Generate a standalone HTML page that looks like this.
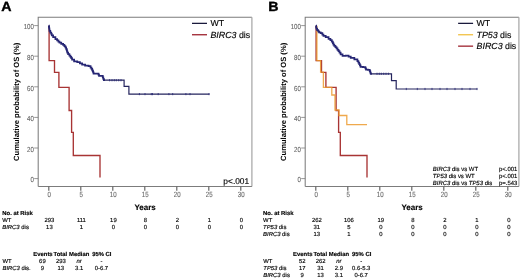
<!DOCTYPE html>
<html><head><meta charset="utf-8"><style>
html,body{margin:0;padding:0;background:#fff;width:520px;height:279px;overflow:hidden}
svg{display:block;will-change:transform;filter:blur(0.25px)}
text{text-rendering:geometricPrecision}

</style></head><body>
<svg width="520" height="279" viewBox="0 0 520 279" font-family='"Liberation Sans", sans-serif'><rect width="520" height="279" fill="#fff"/><text transform="translate(1.30,10.5) scale(1.07,1)" font-weight="bold" font-size="13.3" stroke="#000" stroke-width="0.35">A</text><path d="M38.20,186.5V17.25H251.90" fill="none" stroke="#7c7c7c" stroke-width="1.05"/><path d="M251.90,17.25V186.5" fill="none" stroke="#a4a4a4" stroke-width="1.2"/><path d="M38.20,186.5H251.90" fill="none" stroke="#7c7c7c" stroke-width="1.05"/><line x1="34.20" y1="178.60" x2="38.2" y2="178.60" stroke="#7c7c7c" stroke-width="0.8"/><text transform="translate(33.90,182.30) scale(0.84,1)" font-size="7.3" text-anchor="end" fill="#666666" stroke="#666666" stroke-width="0.1">0</text><line x1="34.20" y1="148.00" x2="38.2" y2="148.00" stroke="#7c7c7c" stroke-width="0.8"/><text transform="translate(33.90,151.70) scale(0.84,1)" font-size="7.3" text-anchor="end" fill="#666666" stroke="#666666" stroke-width="0.1">20</text><line x1="34.20" y1="117.40" x2="38.2" y2="117.40" stroke="#7c7c7c" stroke-width="0.8"/><text transform="translate(33.90,121.10) scale(0.84,1)" font-size="7.3" text-anchor="end" fill="#666666" stroke="#666666" stroke-width="0.1">40</text><line x1="34.20" y1="86.80" x2="38.2" y2="86.80" stroke="#7c7c7c" stroke-width="0.8"/><text transform="translate(33.90,90.50) scale(0.84,1)" font-size="7.3" text-anchor="end" fill="#666666" stroke="#666666" stroke-width="0.1">60</text><line x1="34.20" y1="56.20" x2="38.2" y2="56.20" stroke="#7c7c7c" stroke-width="0.8"/><text transform="translate(33.90,59.90) scale(0.84,1)" font-size="7.3" text-anchor="end" fill="#666666" stroke="#666666" stroke-width="0.1">80</text><line x1="34.20" y1="25.60" x2="38.2" y2="25.60" stroke="#7c7c7c" stroke-width="0.8"/><text transform="translate(33.90,29.30) scale(0.84,1)" font-size="7.3" text-anchor="end" fill="#666666" stroke="#666666" stroke-width="0.1">100</text><line x1="48.80" y1="186.5" x2="48.80" y2="190.7" stroke="#606060" stroke-width="1.15"/><text transform="translate(49.20,197.1) scale(0.8,1)" font-size="7.6" text-anchor="middle" fill="#666666" stroke="#666666" stroke-width="0.1">0</text><line x1="80.80" y1="186.5" x2="80.80" y2="190.7" stroke="#606060" stroke-width="1.15"/><text transform="translate(81.20,197.1) scale(0.8,1)" font-size="7.6" text-anchor="middle" fill="#666666" stroke="#666666" stroke-width="0.1">5</text><line x1="112.80" y1="186.5" x2="112.80" y2="190.7" stroke="#606060" stroke-width="1.15"/><text transform="translate(113.20,197.1) scale(0.8,1)" font-size="7.6" text-anchor="middle" fill="#666666" stroke="#666666" stroke-width="0.1">10</text><line x1="144.80" y1="186.5" x2="144.80" y2="190.7" stroke="#606060" stroke-width="1.15"/><text transform="translate(145.20,197.1) scale(0.8,1)" font-size="7.6" text-anchor="middle" fill="#666666" stroke="#666666" stroke-width="0.1">15</text><line x1="176.80" y1="186.5" x2="176.80" y2="190.7" stroke="#606060" stroke-width="1.15"/><text transform="translate(177.20,197.1) scale(0.8,1)" font-size="7.6" text-anchor="middle" fill="#666666" stroke="#666666" stroke-width="0.1">20</text><line x1="208.80" y1="186.5" x2="208.80" y2="190.7" stroke="#606060" stroke-width="1.15"/><text transform="translate(209.20,197.1) scale(0.8,1)" font-size="7.6" text-anchor="middle" fill="#666666" stroke="#666666" stroke-width="0.1">25</text><line x1="240.80" y1="186.5" x2="240.80" y2="190.7" stroke="#606060" stroke-width="1.15"/><text transform="translate(241.20,197.1) scale(0.8,1)" font-size="7.6" text-anchor="middle" fill="#666666" stroke="#666666" stroke-width="0.1">30</text><text x="145.10" y="210.20" font-size="8.0" text-anchor="middle" font-weight="bold" fill="#000" stroke="#000" stroke-width="0.14">Years</text><text transform="translate(18.60,101.9) rotate(-90)" text-anchor="middle" font-weight="bold" font-size="7.6">Cumulative probability of OS (%)</text><path d="M49.10,25.80 L49.10,60.60 L54.50,60.60 L54.50,72.40 L58.90,72.40 L58.90,87.40 L69.10,87.40 L69.10,110.50 L71.60,110.50 L71.60,132.40 L73.30,132.40 L73.30,155.50 L100.00,155.50 L100.00,177.60" fill="none" stroke="#a83434" stroke-width="1.35" stroke-linejoin="miter"/><path d="M48.80,25.60 L48.90,25.60 L48.90,26.80 L49.10,26.80 L49.10,28.00 L49.20,28.00 L49.30,28.00 L49.30,29.45 L49.50,29.45 L49.50,30.90 L49.60,30.90 L50.30,30.90 L50.30,32.60 L51.00,32.60 L51.25,32.60 L51.25,33.95 L51.75,33.95 L51.75,35.30 L52.00,35.30 L53.15,35.30 L53.15,37.20 L54.30,37.20 L55.40,37.20 L55.40,39.10 L56.50,39.10 L57.12,39.10 L57.12,40.35 L58.38,40.35 L58.38,41.60 L59.00,41.60 L59.50,41.60 L59.50,42.50 L60.00,42.50 L61.25,42.50 L61.25,43.80 L62.50,43.80 L63.12,43.80 L63.12,44.90 L64.38,44.90 L64.38,46.00 L65.00,46.00 L65.38,46.00 L65.38,47.40 L66.12,47.40 L66.12,48.80 L66.50,48.80 L66.67,48.80 L66.67,50.07 L67.00,50.07 L67.00,51.33 L67.33,51.33 L67.33,52.60 L67.50,52.60 L68.12,52.60 L68.12,54.15 L69.38,54.15 L69.38,55.70 L70.00,55.70 L70.42,55.70 L70.42,56.97 L71.25,56.97 L71.25,58.23 L72.08,58.23 L72.08,59.50 L72.50,59.50 L74.10,59.50 L74.10,61.30 L75.70,61.30 L77.25,61.30 L77.25,62.00 L78.80,62.00 L79.90,62.00 L79.90,63.25 L82.10,63.25 L82.10,64.50 L83.20,64.50 L85.10,64.50 L85.10,65.70 L87.00,65.70 L88.55,65.70 L88.55,66.10 L90.10,66.10 L90.57,66.10 L90.57,67.50 L91.53,67.50 L91.53,68.90 L92.00,68.90 L92.22,68.90 L92.22,70.05 L92.67,70.05 L92.67,71.20 L93.12,71.20 L93.12,72.35 L93.58,72.35 L93.58,73.50 L93.80,73.50 L98.20,73.50 L98.47,73.50 L98.47,74.70 L99.03,74.70 L99.03,75.90 L99.30,75.90 L102.50,75.90 L102.77,75.90 L102.77,77.33 L103.30,77.33 L103.30,78.77 L103.83,78.77 L103.83,80.20 L104.10,80.20 L105.00,80.20" fill="none" stroke="#262674" stroke-width="1.75" stroke-linejoin="miter"/><path d="M104.50,80.20 L124.10,80.20 L124.10,86.40 L128.90,86.40 L128.90,94.10 L209.50,94.10" fill="none" stroke="#25255e" stroke-width="1.2" stroke-linejoin="miter"/><path d="M109.60,79.10v2.2M112.00,79.10v2.2M114.30,79.10v2.2M116.30,79.10v2.2M118.70,79.10v2.2M121.00,79.10v2.2" stroke="#262674" stroke-width="0.8" fill="none"/><path d="M139.40,93.00v2.2M145.00,93.00v2.2M151.30,93.00v2.2M152.50,93.00v2.2M158.20,93.00v2.2M168.90,93.00v2.2M172.70,93.00v2.2M185.90,93.00v2.2M190.00,93.00v2.2M209.00,93.00v2.2" stroke="#262674" stroke-width="0.8" fill="none"/><line x1="192.00" y1="23.35" x2="207.00" y2="23.35" stroke="#1a1a3c" stroke-width="1.25"/><text x="210.40" y="26.45" font-size="8.8" fill="#000" stroke="#000" stroke-width="0.14">WT</text><line x1="192.00" y1="34.75" x2="207.00" y2="34.75" stroke="#9a1a26" stroke-width="1.25"/><text x="210.40" y="37.85" font-size="8.9" fill="#000" stroke="#000" stroke-width="0.14"><tspan font-style="italic">BIRC3</tspan></text><text x="238.90" y="37.85" font-size="8.8" fill="#000" stroke="#000" stroke-width="0.14">dis</text><text x="249.20" y="184.40" font-size="8.4" text-anchor="end" fill="#000" stroke="#000" stroke-width="0.14">p&lt;.001</text><text x="2.30" y="215.20" font-size="5.9" font-weight="bold" fill="#000" stroke="#000" stroke-width="0.14">No. at Risk</text><text x="2.30" y="221.90" font-size="5.9" fill="#000" stroke="#000" stroke-width="0.14">WT</text><text x="49.40" y="221.90" font-size="5.9" text-anchor="middle" fill="#000" stroke="#000" stroke-width="0.14">293</text><text x="81.40" y="221.90" font-size="5.9" text-anchor="middle" fill="#000" stroke="#000" stroke-width="0.14">111</text><text x="113.40" y="221.90" font-size="5.9" text-anchor="middle" fill="#000" stroke="#000" stroke-width="0.14">19</text><text x="145.40" y="221.90" font-size="5.9" text-anchor="middle" fill="#000" stroke="#000" stroke-width="0.14">8</text><text x="177.40" y="221.90" font-size="5.9" text-anchor="middle" fill="#000" stroke="#000" stroke-width="0.14">2</text><text x="209.40" y="221.90" font-size="5.9" text-anchor="middle" fill="#000" stroke="#000" stroke-width="0.14">1</text><text x="241.40" y="221.90" font-size="5.9" text-anchor="middle" fill="#000" stroke="#000" stroke-width="0.14">0</text><text x="2.30" y="229.10" font-size="5.9" fill="#000" stroke="#000" stroke-width="0.14"><tspan font-style="italic">BIRC3</tspan> dis</text><text x="49.40" y="229.10" font-size="5.9" text-anchor="middle" fill="#000" stroke="#000" stroke-width="0.14">13</text><text x="81.40" y="229.10" font-size="5.9" text-anchor="middle" fill="#000" stroke="#000" stroke-width="0.14">1</text><text x="113.40" y="229.10" font-size="5.9" text-anchor="middle" fill="#000" stroke="#000" stroke-width="0.14">0</text><text x="145.40" y="229.10" font-size="5.9" text-anchor="middle" fill="#000" stroke="#000" stroke-width="0.14">0</text><text x="177.40" y="229.10" font-size="5.9" text-anchor="middle" fill="#000" stroke="#000" stroke-width="0.14">0</text><text x="209.40" y="229.10" font-size="5.9" text-anchor="middle" fill="#000" stroke="#000" stroke-width="0.14">0</text><text x="241.40" y="229.10" font-size="5.9" text-anchor="middle" fill="#000" stroke="#000" stroke-width="0.14">0</text><text x="33.30" y="255.80" font-size="5.9" font-weight="bold" fill="#000" stroke="#000" stroke-width="0.14">Events</text><text x="53.60" y="255.80" font-size="5.9" font-weight="bold" fill="#000" stroke="#000" stroke-width="0.14">Total</text><text x="69.00" y="255.80" font-size="5.9" font-weight="bold" fill="#000" stroke="#000" stroke-width="0.14">Median</text><text x="92.20" y="255.80" font-size="5.9" font-weight="bold" fill="#000" stroke="#000" stroke-width="0.14">95% CI</text><text x="2.50" y="262.90" font-size="5.9" fill="#000" stroke="#000" stroke-width="0.14">WT</text><text x="42.40" y="262.90" font-size="5.9" text-anchor="middle" fill="#000" stroke="#000" stroke-width="0.14">69</text><text x="60.80" y="262.90" font-size="5.9" text-anchor="middle" fill="#000" stroke="#000" stroke-width="0.14">293</text><text x="79.10" y="262.90" font-size="5.9" text-anchor="middle" fill="#000" stroke="#000" stroke-width="0.14"><tspan font-style="italic">nr</tspan></text><text x="101.40" y="262.90" font-size="5.9" text-anchor="middle" fill="#000" stroke="#000" stroke-width="0.14">-</text><text x="2.50" y="270.00" font-size="5.9" fill="#000" stroke="#000" stroke-width="0.14"><tspan font-style="italic">BIRC3</tspan> dis.</text><text x="42.40" y="270.00" font-size="5.9" text-anchor="middle" fill="#000" stroke="#000" stroke-width="0.14">9</text><text x="60.80" y="270.00" font-size="5.9" text-anchor="middle" fill="#000" stroke="#000" stroke-width="0.14">13</text><text x="79.10" y="270.00" font-size="5.9" text-anchor="middle" fill="#000" stroke="#000" stroke-width="0.14">3.1</text><text x="101.40" y="270.00" font-size="5.9" text-anchor="middle" fill="#000" stroke="#000" stroke-width="0.14">0-6.7</text><text transform="translate(268.30,10.5) scale(1.07,1)" font-weight="bold" font-size="13.3" stroke="#000" stroke-width="0.35">B</text><path d="M305.20,186.5V17.25H518.90" fill="none" stroke="#7c7c7c" stroke-width="1.05"/><path d="M518.90,17.25V186.5" fill="none" stroke="#a4a4a4" stroke-width="1.2"/><path d="M305.20,186.5H518.90" fill="none" stroke="#7c7c7c" stroke-width="1.05"/><line x1="301.20" y1="178.60" x2="305.2" y2="178.60" stroke="#7c7c7c" stroke-width="0.8"/><text transform="translate(300.90,182.30) scale(0.84,1)" font-size="7.3" text-anchor="end" fill="#666666" stroke="#666666" stroke-width="0.1">0</text><line x1="301.20" y1="148.00" x2="305.2" y2="148.00" stroke="#7c7c7c" stroke-width="0.8"/><text transform="translate(300.90,151.70) scale(0.84,1)" font-size="7.3" text-anchor="end" fill="#666666" stroke="#666666" stroke-width="0.1">20</text><line x1="301.20" y1="117.40" x2="305.2" y2="117.40" stroke="#7c7c7c" stroke-width="0.8"/><text transform="translate(300.90,121.10) scale(0.84,1)" font-size="7.3" text-anchor="end" fill="#666666" stroke="#666666" stroke-width="0.1">40</text><line x1="301.20" y1="86.80" x2="305.2" y2="86.80" stroke="#7c7c7c" stroke-width="0.8"/><text transform="translate(300.90,90.50) scale(0.84,1)" font-size="7.3" text-anchor="end" fill="#666666" stroke="#666666" stroke-width="0.1">60</text><line x1="301.20" y1="56.20" x2="305.2" y2="56.20" stroke="#7c7c7c" stroke-width="0.8"/><text transform="translate(300.90,59.90) scale(0.84,1)" font-size="7.3" text-anchor="end" fill="#666666" stroke="#666666" stroke-width="0.1">80</text><line x1="301.20" y1="25.60" x2="305.2" y2="25.60" stroke="#7c7c7c" stroke-width="0.8"/><text transform="translate(300.90,29.30) scale(0.84,1)" font-size="7.3" text-anchor="end" fill="#666666" stroke="#666666" stroke-width="0.1">100</text><line x1="315.80" y1="186.5" x2="315.80" y2="190.7" stroke="#606060" stroke-width="1.15"/><text transform="translate(316.20,197.1) scale(0.8,1)" font-size="7.6" text-anchor="middle" fill="#666666" stroke="#666666" stroke-width="0.1">0</text><line x1="347.80" y1="186.5" x2="347.80" y2="190.7" stroke="#606060" stroke-width="1.15"/><text transform="translate(348.20,197.1) scale(0.8,1)" font-size="7.6" text-anchor="middle" fill="#666666" stroke="#666666" stroke-width="0.1">5</text><line x1="379.80" y1="186.5" x2="379.80" y2="190.7" stroke="#606060" stroke-width="1.15"/><text transform="translate(380.20,197.1) scale(0.8,1)" font-size="7.6" text-anchor="middle" fill="#666666" stroke="#666666" stroke-width="0.1">10</text><line x1="411.80" y1="186.5" x2="411.80" y2="190.7" stroke="#606060" stroke-width="1.15"/><text transform="translate(412.20,197.1) scale(0.8,1)" font-size="7.6" text-anchor="middle" fill="#666666" stroke="#666666" stroke-width="0.1">15</text><line x1="443.80" y1="186.5" x2="443.80" y2="190.7" stroke="#606060" stroke-width="1.15"/><text transform="translate(444.20,197.1) scale(0.8,1)" font-size="7.6" text-anchor="middle" fill="#666666" stroke="#666666" stroke-width="0.1">20</text><line x1="475.80" y1="186.5" x2="475.80" y2="190.7" stroke="#606060" stroke-width="1.15"/><text transform="translate(476.20,197.1) scale(0.8,1)" font-size="7.6" text-anchor="middle" fill="#666666" stroke="#666666" stroke-width="0.1">25</text><line x1="507.80" y1="186.5" x2="507.80" y2="190.7" stroke="#606060" stroke-width="1.15"/><text transform="translate(508.20,197.1) scale(0.8,1)" font-size="7.6" text-anchor="middle" fill="#666666" stroke="#666666" stroke-width="0.1">30</text><text x="412.10" y="210.20" font-size="8.0" text-anchor="middle" font-weight="bold" fill="#000" stroke="#000" stroke-width="0.14">Years</text><text transform="translate(285.60,101.9) rotate(-90)" text-anchor="middle" font-weight="bold" font-size="7.6">Cumulative probability of OS (%)</text><path d="M316.10,25.80 L316.10,60.60 L321.50,60.60 L321.50,72.40 L325.90,72.40 L325.90,87.40 L336.10,87.40 L336.10,110.50 L338.60,110.50 L338.60,132.40 L340.30,132.40 L340.30,155.50 L367.00,155.50 L367.00,177.60" fill="none" stroke="#a83434" stroke-width="1.35" stroke-linejoin="miter"/><path d="M316.90,25.80 L316.90,60.60 L320.60,60.60 L320.60,72.20 L323.40,72.20 L323.40,87.40 L331.80,87.40 L331.80,95.00 L335.00,95.00 L335.00,110.00 L339.00,110.00 L339.00,115.50 L346.80,115.50 L346.80,124.70 L367.00,124.70" fill="none" stroke="#ec9a2e" stroke-width="1.3" stroke-opacity="0.85" stroke-linejoin="miter"/><path d="M316.00,25.60 L316.12,25.60 L316.12,27.05 L316.38,27.05 L316.38,28.50 L316.50,28.50 L317.15,28.50 L317.15,30.10 L317.80,30.10 L318.23,30.10 L318.23,31.25 L319.07,31.25 L319.07,32.40 L319.50,32.40 L320.65,32.40 L320.65,33.20 L321.80,33.20 L322.35,33.20 L322.35,34.50 L323.45,34.50 L323.45,35.80 L324.00,35.80 L325.70,35.80 L325.70,37.00 L327.40,37.00 L328.55,37.00 L328.55,38.90 L329.70,38.90 L330.40,38.90 L330.40,40.20 L331.80,40.20 L331.80,41.50 L332.50,41.50 L332.80,41.50 L332.80,43.05 L333.40,43.05 L333.40,44.60 L333.70,44.60 L334.27,44.60 L334.27,45.80 L335.43,45.80 L335.43,47.00 L336.00,47.00 L336.50,47.00 L336.50,48.40 L337.50,48.40 L337.50,49.80 L338.00,49.80 L338.50,49.80 L338.50,51.15 L339.50,51.15 L339.50,52.50 L340.00,52.50 L340.60,52.50 L340.60,54.30 L341.20,54.30 L342.55,54.30 L342.55,55.90 L343.90,55.90 L345.70,55.90 L345.70,55.50 L347.50,55.50 L348.57,55.50 L348.57,56.70 L350.73,56.70 L350.73,57.90 L351.80,57.90 L354.35,57.90 L354.35,59.40 L356.90,59.40 L357.40,59.40 L357.40,61.00 L358.40,61.00 L358.40,62.60 L358.90,62.60 L359.23,62.60 L359.23,64.03 L359.90,64.03 L359.90,65.47 L360.57,65.47 L360.57,66.90 L360.90,66.90 L363.00,66.90 L363.00,67.10 L365.10,67.10 L365.40,67.10 L365.40,68.30 L366.00,68.30 L366.00,69.50 L366.30,69.50 L367.90,69.50 L367.90,69.90 L369.50,69.90 L369.75,69.90 L369.75,71.20 L370.25,71.20 L370.25,72.50 L370.75,72.50 L370.75,73.80 L371.00,73.80 L372.00,73.80" fill="none" stroke="#262674" stroke-width="1.75" stroke-linejoin="miter"/><path d="M371.50,73.80 L391.50,73.80 L391.50,80.70 L396.20,80.70 L396.20,89.00 L477.30,89.00" fill="none" stroke="#25255e" stroke-width="1.2" stroke-linejoin="miter"/><path d="M377.00,72.70v2.2M379.30,72.70v2.2M381.30,72.70v2.2M383.70,72.70v2.2M386.00,72.70v2.2M388.40,72.70v2.2" stroke="#262674" stroke-width="0.8" fill="none"/><path d="M406.30,87.90v2.2M417.30,87.90v2.2M425.00,87.90v2.2M432.00,87.90v2.2M440.00,87.90v2.2M447.00,87.90v2.2M455.00,87.90v2.2M462.00,87.90v2.2M470.00,87.90v2.2M477.00,87.90v2.2" stroke="#262674" stroke-width="0.8" fill="none"/><line x1="458.10" y1="23.35" x2="473.10" y2="23.35" stroke="#1a1a3c" stroke-width="1.25"/><text x="476.50" y="26.45" font-size="8.8" fill="#000" stroke="#000" stroke-width="0.14">WT</text><line x1="458.10" y1="34.75" x2="473.10" y2="34.75" stroke="#f0be3c" stroke-width="1.25"/><text x="476.50" y="37.85" font-size="8.9" fill="#000" stroke="#000" stroke-width="0.14"><tspan font-style="italic">TP53</tspan></text><text x="500.10" y="37.85" font-size="8.8" fill="#000" stroke="#000" stroke-width="0.14">dis</text><line x1="458.10" y1="46.15" x2="473.10" y2="46.15" stroke="#9a1a26" stroke-width="1.25"/><text x="476.50" y="49.25" font-size="8.9" fill="#000" stroke="#000" stroke-width="0.14"><tspan font-style="italic">BIRC3</tspan></text><text x="505.00" y="49.25" font-size="8.8" fill="#000" stroke="#000" stroke-width="0.14">dis</text><text x="432.80" y="170.70" font-size="5.95" fill="#000" stroke="#000" stroke-width="0.14"><tspan font-style="italic">BIRC3</tspan> dis vs WT</text><text x="499.00" y="170.70" font-size="5.95" fill="#000" stroke="#000" stroke-width="0.14">p&lt;.001</text><text x="432.80" y="177.90" font-size="5.95" fill="#000" stroke="#000" stroke-width="0.14"><tspan font-style="italic">TP53</tspan> dis vs WT</text><text x="499.00" y="177.90" font-size="5.95" fill="#000" stroke="#000" stroke-width="0.14">p&lt;.001</text><text x="432.80" y="185.10" font-size="5.95" fill="#000" stroke="#000" stroke-width="0.14"><tspan font-style="italic">BIRC3</tspan> dis vs <tspan font-style="italic">TP53</tspan> dis</text><text x="499.00" y="185.10" font-size="5.95" fill="#000" stroke="#000" stroke-width="0.14">p=.543</text><text x="263.10" y="215.20" font-size="5.9" font-weight="bold" fill="#000" stroke="#000" stroke-width="0.14">No. at Risk</text><text x="263.10" y="221.90" font-size="5.9" fill="#000" stroke="#000" stroke-width="0.14">WT</text><text x="316.80" y="221.90" font-size="5.9" text-anchor="middle" fill="#000" stroke="#000" stroke-width="0.14">262</text><text x="348.80" y="221.90" font-size="5.9" text-anchor="middle" fill="#000" stroke="#000" stroke-width="0.14">106</text><text x="380.80" y="221.90" font-size="5.9" text-anchor="middle" fill="#000" stroke="#000" stroke-width="0.14">19</text><text x="412.80" y="221.90" font-size="5.9" text-anchor="middle" fill="#000" stroke="#000" stroke-width="0.14">8</text><text x="444.80" y="221.90" font-size="5.9" text-anchor="middle" fill="#000" stroke="#000" stroke-width="0.14">2</text><text x="476.80" y="221.90" font-size="5.9" text-anchor="middle" fill="#000" stroke="#000" stroke-width="0.14">1</text><text x="508.80" y="221.90" font-size="5.9" text-anchor="middle" fill="#000" stroke="#000" stroke-width="0.14">0</text><text x="263.10" y="229.10" font-size="5.9" fill="#000" stroke="#000" stroke-width="0.14"><tspan font-style="italic">TP53</tspan> dis</text><text x="316.80" y="229.10" font-size="5.9" text-anchor="middle" fill="#000" stroke="#000" stroke-width="0.14">31</text><text x="348.80" y="229.10" font-size="5.9" text-anchor="middle" fill="#000" stroke="#000" stroke-width="0.14">5</text><text x="380.80" y="229.10" font-size="5.9" text-anchor="middle" fill="#000" stroke="#000" stroke-width="0.14">0</text><text x="412.80" y="229.10" font-size="5.9" text-anchor="middle" fill="#000" stroke="#000" stroke-width="0.14">0</text><text x="444.80" y="229.10" font-size="5.9" text-anchor="middle" fill="#000" stroke="#000" stroke-width="0.14">0</text><text x="476.80" y="229.10" font-size="5.9" text-anchor="middle" fill="#000" stroke="#000" stroke-width="0.14">0</text><text x="508.80" y="229.10" font-size="5.9" text-anchor="middle" fill="#000" stroke="#000" stroke-width="0.14">0</text><text x="263.10" y="236.30" font-size="5.9" fill="#000" stroke="#000" stroke-width="0.14"><tspan font-style="italic">BIRC3</tspan> dis</text><text x="316.80" y="236.30" font-size="5.9" text-anchor="middle" fill="#000" stroke="#000" stroke-width="0.14">13</text><text x="348.80" y="236.30" font-size="5.9" text-anchor="middle" fill="#000" stroke="#000" stroke-width="0.14">1</text><text x="380.80" y="236.30" font-size="5.9" text-anchor="middle" fill="#000" stroke="#000" stroke-width="0.14">0</text><text x="412.80" y="236.30" font-size="5.9" text-anchor="middle" fill="#000" stroke="#000" stroke-width="0.14">0</text><text x="444.80" y="236.30" font-size="5.9" text-anchor="middle" fill="#000" stroke="#000" stroke-width="0.14">0</text><text x="476.80" y="236.30" font-size="5.9" text-anchor="middle" fill="#000" stroke="#000" stroke-width="0.14">0</text><text x="508.80" y="236.30" font-size="5.9" text-anchor="middle" fill="#000" stroke="#000" stroke-width="0.14">0</text><text x="293.10" y="255.80" font-size="5.9" font-weight="bold" fill="#000" stroke="#000" stroke-width="0.14">Events</text><text x="313.40" y="255.80" font-size="5.9" font-weight="bold" fill="#000" stroke="#000" stroke-width="0.14">Total</text><text x="328.80" y="255.80" font-size="5.9" font-weight="bold" fill="#000" stroke="#000" stroke-width="0.14">Median</text><text x="352.00" y="255.80" font-size="5.9" font-weight="bold" fill="#000" stroke="#000" stroke-width="0.14">95% CI</text><text x="263.30" y="262.90" font-size="5.9" fill="#000" stroke="#000" stroke-width="0.14">WT</text><text x="302.20" y="262.90" font-size="5.9" text-anchor="middle" fill="#000" stroke="#000" stroke-width="0.14">52</text><text x="320.60" y="262.90" font-size="5.9" text-anchor="middle" fill="#000" stroke="#000" stroke-width="0.14">262</text><text x="338.90" y="262.90" font-size="5.9" text-anchor="middle" fill="#000" stroke="#000" stroke-width="0.14"><tspan font-style="italic">nr</tspan></text><text x="361.20" y="262.90" font-size="5.9" text-anchor="middle" fill="#000" stroke="#000" stroke-width="0.14">-</text><text x="263.30" y="270.00" font-size="5.9" fill="#000" stroke="#000" stroke-width="0.14"><tspan font-style="italic">TP53</tspan> dis</text><text x="302.20" y="270.00" font-size="5.9" text-anchor="middle" fill="#000" stroke="#000" stroke-width="0.14">17</text><text x="320.60" y="270.00" font-size="5.9" text-anchor="middle" fill="#000" stroke="#000" stroke-width="0.14">31</text><text x="338.90" y="270.00" font-size="5.9" text-anchor="middle" fill="#000" stroke="#000" stroke-width="0.14">2.9</text><text x="361.20" y="270.00" font-size="5.9" text-anchor="middle" fill="#000" stroke="#000" stroke-width="0.14">0.6-5.3</text><text x="263.30" y="277.10" font-size="5.9" fill="#000" stroke="#000" stroke-width="0.14"><tspan font-style="italic">BIRC3</tspan> dis</text><text x="302.20" y="277.10" font-size="5.9" text-anchor="middle" fill="#000" stroke="#000" stroke-width="0.14">9</text><text x="320.60" y="277.10" font-size="5.9" text-anchor="middle" fill="#000" stroke="#000" stroke-width="0.14">13</text><text x="338.90" y="277.10" font-size="5.9" text-anchor="middle" fill="#000" stroke="#000" stroke-width="0.14">3.1</text><text x="361.20" y="277.10" font-size="5.9" text-anchor="middle" fill="#000" stroke="#000" stroke-width="0.14">0-6.7</text></svg>
</body></html>
